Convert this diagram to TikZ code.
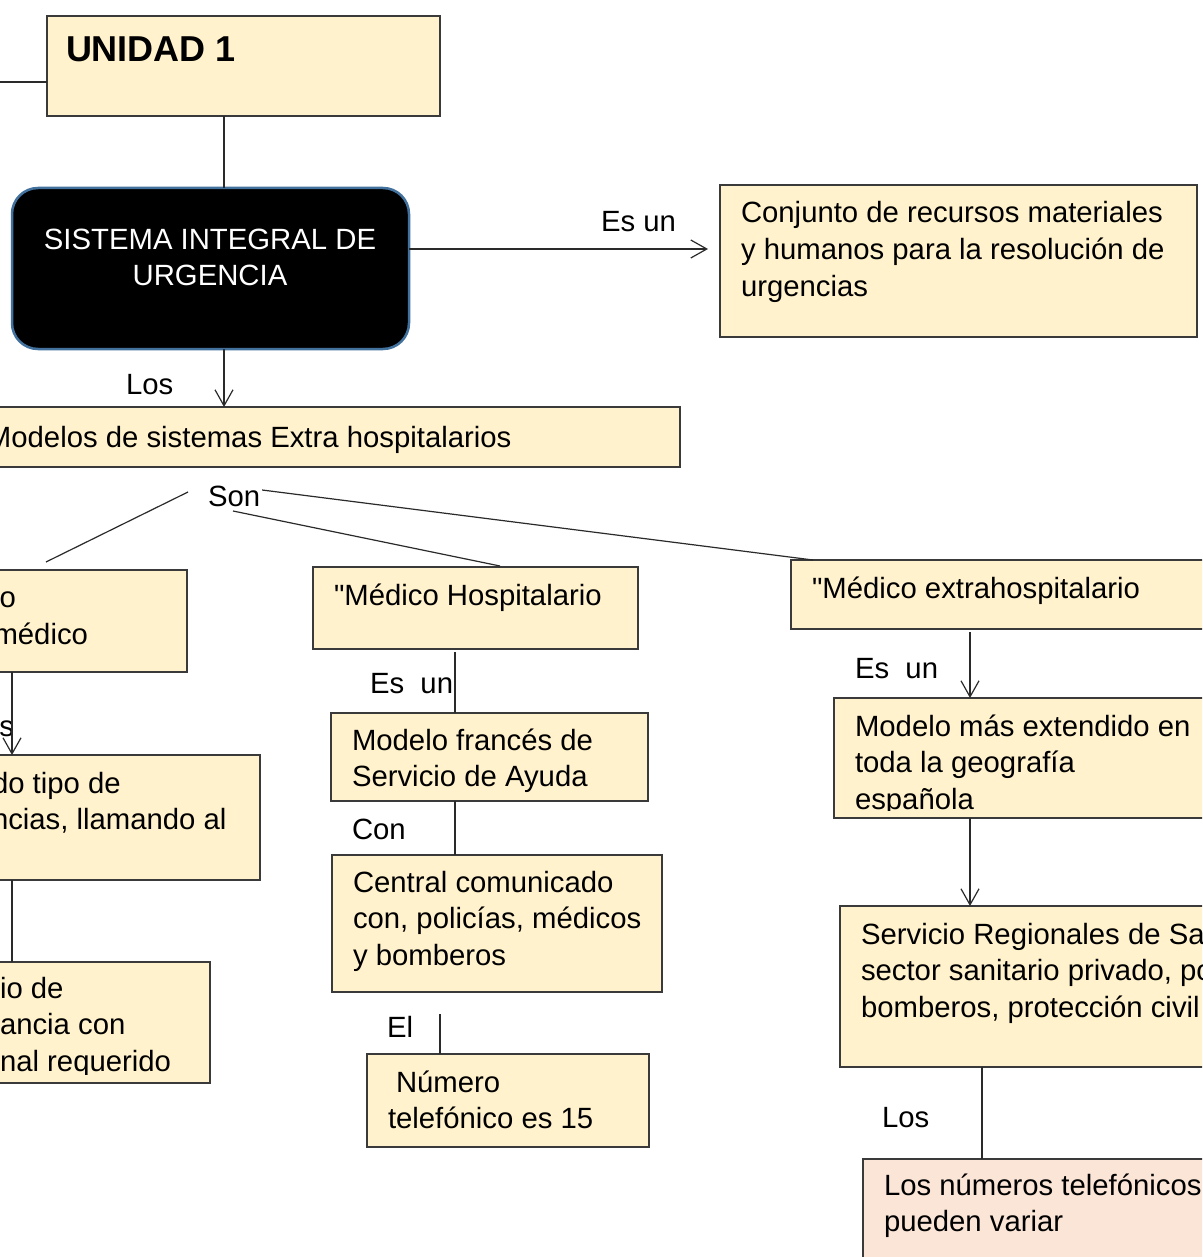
\documentclass[tikz,border=0pt]{standalone}
\usepackage{fontspec}
\setmainfont{Liberation Sans}
\newfontfamily\qfont{Liberation Sans}
\usetikzlibrary{arrows.meta,calc}
\definecolor{boxfill}{HTML}{FFF2CC}
\definecolor{pinkfill}{HTML}{FBE5D6}
\definecolor{boxline}{HTML}{3A3A3A}
\definecolor{sisline}{HTML}{41719C}
\definecolor{connline}{HTML}{2A2A2A}
\tikzset{
  box/.style={draw=boxline, fill=boxfill, line width=1.3pt, rectangle, inner sep=0pt, outer sep=0pt, anchor=north west},
  txt/.style={inner sep=0pt, outer sep=0pt, anchor=base west, align=left, font=\fontsize{29.3}{36.6}\selectfont},
  conn/.style={draw=connline, line width=1.2pt},
  arr/.style={conn, -{Straight Barb[length=16pt,width=18pt,line width=1.2pt]}},
}
\begin{document}
\begin{tikzpicture}[x=1pt,y=-1pt]
\useasboundingbox (0,0) rectangle (1202,1257);
\clip (0,0) rectangle (1202,1257);
\fill[white] (0,0) rectangle (1202,1257);

% boxes
\node[box, minimum width=393pt, minimum height=100pt] (uni) at (47,16) {};
\node[box, fill=black, draw=sisline, line width=2.5pt, rounded corners=26pt, minimum width=397pt, minimum height=161pt] (sis) at (12,188) {};
\node[box, minimum width=477pt, minimum height=152pt] (conj) at (720,185) {};
\node[box, minimum width=700pt, minimum height=60pt] (mod) at (-20,407) {};
\node[box, minimum width=207pt, minimum height=102pt] (lb1) at (-20,570) {};
\node[box, minimum width=280pt, minimum height=125pt] (lb2) at (-20,755) {};
\node[box, minimum width=230pt, minimum height=121pt] (lb3) at (-20,962) {};
\node[box, minimum width=325pt, minimum height=82pt] (mh) at (313,567) {};
\node[box, minimum width=317pt, minimum height=88pt] (mf) at (331,713) {};
\node[box, minimum width=330pt, minimum height=137pt] (cen) at (332,855) {};
\node[box, minimum width=282pt, minimum height=93pt] (num) at (367,1054) {};
\node[box, minimum width=440pt, minimum height=69pt] (me) at (791,560) {};
\node[box, minimum width=400pt, minimum height=120pt] (mme) at (834,698) {};
\node[box, minimum width=400pt, minimum height=161pt] (sr) at (840,906) {};
\node[box, fill=pinkfill, minimum width=400pt, minimum height=130pt] (ln) at (863,1159) {};

% texts (multi-line nodes are placed by the baseline of their last line)
\node[txt, font=\bfseries\fontsize{36}{44}\selectfont] (tuni) at (66,62) {UNIDAD 1};
\node[txt, text=white, align=center, anchor=base] (tsis) at (210,285.6) {SISTEMA INTEGRAL DE\\URGENCIA};
\node[txt] (tesun1) at (601,232) {Es un};
\node[txt] (tconj) at (741,296.2) {Conjunto de recursos materiales\\y humanos para la resolución de\\urgencias};
\node[txt] (tlos1) at (126,394) {Los};
\node[txt] (tmod) at (-13,447) {Modelos de sistemas Extra hospitalarios};
\node[txt] (son) at (208,506) {Son};
\node[txt, anchor=base east] (tlb1a) at (16,607) {o};
\node[txt, anchor=base east] (tlb1b) at (88,644) {médico};
\node[txt, anchor=base east] (ts) at (14,736) {s};
\node[txt] (tlb2) at (-8,829.6) {do tipo de\\ncias, llamando al};
\begin{scope}
\clip (-20,962) rectangle (210,1074);
\node[txt] (tlb3) at (0,1071.2) {io de\\ancia con\\nal requerido};
\end{scope}
\node[txt] (tmh) at (334,605) {{\qfont"}Médico Hospitalario};
\node[txt] (tesun2) at (370,693) {Es\ \ un};
\node[txt] (tmf) at (352,786.6) {Modelo francés de\\Servicio de Ayuda};
\node[txt] (tcon) at (352,839) {Con};
\node[txt] (tcen) at (353,965.2) {Central comunicado\\con, policías, médicos\\y bomberos};
\node[txt] (tel) at (387,1037) {El};
\node[txt] (tnum) at (388,1128.6) {\hspace*{8pt}Número\\telefónico es 15};
\node[txt] (tme) at (812,598) {{\qfont"}Médico extrahospitalario};
\node[txt] (tesun3) at (855,678) {Es\ \ un};
\begin{scope}
\clip (834,698) rectangle (1240,810);
\node[txt] (tmme) at (855,809.2) {Modelo más extendido en\\toda la geografía\\española};
\end{scope}
\node[txt] (tsr) at (861,1017.2) {Servicio Regionales de Sa\\sector sanitario privado, po\\bomberos, protección civil};
\node[txt] (tlos2) at (882,1127) {Los};
\node[txt] (tln) at (884,1231.6) {Los números telefónicos\\pueden variar};

% connectors
\coordinate (lft) at (-5,82);
\draw[conn] (lft) -- (lft -| uni.west);
\coordinate (xa) at (224,0);
\draw[conn] (xa |- uni.south) -- (xa |- sis.north);
\coordinate (ya) at (0,249);
\draw[arr] (sis.east |- ya) -- ($(conj.west |- ya)+(-12,0)$);
\draw[arr] (xa |- sis.south) -- (xa |- mod.north);
\draw[conn] ($(son.base west)+(-20,-14)$) -- ($(lb1.north east)+(-141,-8)$);
\draw[conn] ($(son.base west)+(25,5)$) -- ($(mh.north west)+(187,-1)$);
\draw[conn] ($(son.base east)+(2,-16)$) -- ($(me.north west)+(22,0)$);
\coordinate (xb) at (12,0);
\draw[arr] (xb |- lb1.south) -- (xb |- lb2.north);
\draw[conn] (xb |- lb2.south) -- (xb |- lb3.north);
\coordinate (xc) at (455,0);
\draw[conn] ($(xc |- mh.south)+(0,3)$) -- (xc |- mf.north);
\draw[conn] (xc |- mf.south) -- (xc |- cen.north);
\coordinate (xd) at (440,0);
\draw[conn] ($(xd |- cen.south)+(0,22)$) -- (xd |- num.north);
\coordinate (xe) at (970,0);
\draw[arr] ($(xe |- me.south)+(0,3)$) -- (xe |- mme.north);
\draw[arr] (xe |- mme.south) -- (xe |- sr.north);
\coordinate (xf) at (982,0);
\draw[conn] (xf |- sr.south) -- (xf |- ln.north);
\end{tikzpicture}
\end{document}
